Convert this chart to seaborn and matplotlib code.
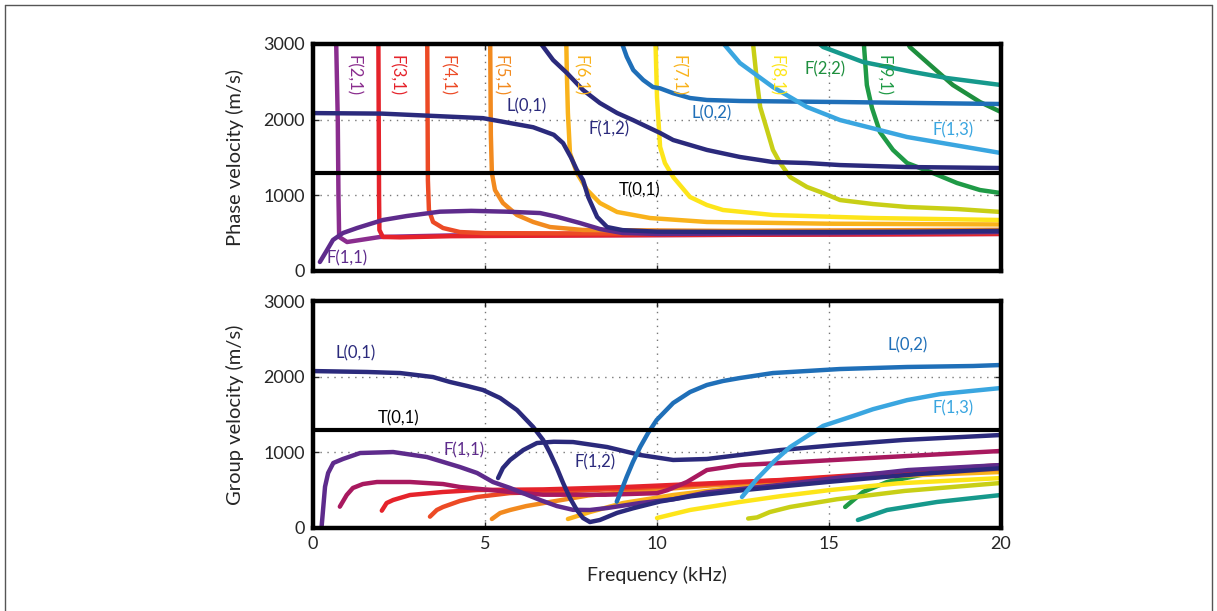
import numpy as np, pandas as pd
import seaborn as sns
import matplotlib
matplotlib.use("Agg")
import matplotlib.pyplot as plt
from matplotlib.lines import Line2D

sns.set_style("white")
plt.rcParams['font.family'] = ['Lato', 'DejaVu Sans']

# colours of the modes
c_navy = "#2b2a7c"
c_purple = "#5e2b8c"
c_violet = "#8a2d8e"
c_crimson = "#a8195f"
c_red = "#e5232b"
c_redorange = "#ec4a25"
c_orange = "#f28a1f"
c_amber = "#f9b21b"
c_yellow = "#fde51a"
c_lime = "#c8cf16"
c_green = "#1f9a46"
c_green2 = "#1e8f3e"
c_teal = "#16998c"
c_blue = "#1f6fb8"
c_lightblue = "#3aa6e0"

t01_velocity = 1290

# ---- phase velocity (top panel), frequency in kHz, velocity in m/s ----
ph_L01_f = [0, 2.0, 4.94, 6.4, 7.0, 7.27, 7.5, 7.67, 7.85, 8.0, 8.26, 8.55, 9.0, 10.0, 12.5, 15, 17.5, 20]
ph_L01_v = [2087, 2080, 2020, 1900, 1800, 1690, 1500, 1335, 1202, 978, 714, 581, 540, 520, 515, 515, 520, 530]
ph_F11_f = [0.2, 0.41, 0.58, 0.87, 1.28, 2.03, 2.73, 3.69, 4.6, 5.63, 6.6, 7.08, 7.76, 8.34, 9.0, 10, 15, 20]
ph_F11_v = [119, 278, 410, 502, 568, 674, 727, 784, 795, 784, 766, 718, 634, 555, 502, 490, 500, 515]
ph_F21_f = [0.67, 0.72, 0.74, 0.76, 0.99, 1.95, 4.0, 10, 20]
ph_F21_v = [3100, 2000, 1000, 450, 383, 450, 470, 475, 490]
ph_F31_f = [1.90, 1.92, 1.93, 2.03, 2.53, 4, 10, 20]
ph_F31_v = [3100, 1000, 542, 450, 445, 460, 475, 490]
ph_F41_f = [3.32, 3.34, 3.37, 3.49, 3.78, 4.27, 5.0, 10, 20]
ph_F41_v = [3100, 1200, 806, 648, 568, 515, 500, 495, 510]
ph_F51_f = [5.15, 5.17, 5.2, 5.29, 5.52, 5.93, 6.4, 6.89, 7.85, 12, 20]
ph_F51_v = [3100, 1800, 1295, 1070, 899, 740, 648, 581, 542, 530, 545]
ph_F61_f = [7.36, 7.38, 7.41, 7.47, 7.67, 7.97, 8.34, 8.84, 9.8, 11.45, 15, 20]
ph_F61_v = [3100, 2600, 2088, 1559, 1295, 1070, 899, 780, 700, 648, 625, 615]
ph_F71_f = [9.95, 9.97, 10.0, 10.09, 10.23, 10.47, 10.96, 11.45, 11.92, 13.37, 16.28, 20]
ph_F71_v = [3100, 2800, 2300, 1640, 1427, 1242, 978, 872, 806, 740, 700, 674]
ph_F81_f = [12.77, 12.79, 12.85, 12.91, 13.0, 13.2, 13.37, 13.58, 13.87, 14.36, 14.83, 15.32, 16.28, 17.27, 18.72, 20]
ph_F81_v = [3100, 3009, 2749, 2484, 2167, 1863, 1600, 1427, 1242, 1110, 1030, 938, 885, 846, 819, 780]
ph_F91_f = [16.0, 16.02, 16.1, 16.25, 16.48, 16.86, 17.27, 18.02, 18.72, 19.39, 20]
ph_F91_v = [3100, 2960, 2458, 2154, 1837, 1600, 1427, 1295, 1163, 1070, 1030]
ph_green_f = [17.25, 17.35, 17.94, 18.6, 19.39, 20]
ph_green_v = [3050, 2960, 2722, 2458, 2233, 2101]
ph_teal_f = [14.6, 14.83, 15.99, 17.44, 18.43, 20]
ph_teal_v = [3050, 2960, 2762, 2630, 2550, 2458]
ph_L02_f = [8.95, 9.12, 9.31, 9.6, 9.88, 10.09, 10.47, 10.96, 11.45, 12.41, 15.32, 20]
ph_L02_v = [3050, 2832, 2656, 2524, 2431, 2414, 2350, 2286, 2260, 2247, 2233, 2207]
ph_F12_f = [6.55, 6.98, 7.38, 7.85, 8.34, 8.84, 9.3, 10.09, 10.47, 11.45, 12.41, 13.37, 14.36, 15.32, 17.27, 20]
ph_F12_v = [3050, 2788, 2617, 2392, 2220, 2088, 1995, 1824, 1731, 1600, 1507, 1440, 1427, 1400, 1374, 1361]
ph_F13_f = [11.85, 12.41, 13.37, 14.36, 15.32, 17.27, 20]
ph_F13_v = [3050, 2749, 2431, 2167, 1995, 1771, 1559]

# ---- group velocity (bottom panel) ----
gr_L01_f = [0, 1.57, 2.53, 3.49, 3.98, 4.48, 4.94, 5.44, 5.93, 6.4, 6.69, 6.89, 7.09, 7.27, 7.47, 7.67, 7.85, 8.05, 8.34, 8.84, 9.3, 10.09, 11, 12.5, 15, 17.5, 20]
gr_L01_v = [2074, 2062, 2048, 1995, 1930, 1877, 1824, 1718, 1559, 1335, 1163, 991, 793, 595, 396, 238, 132, 79, 106, 200, 260, 350, 420, 500, 610, 710, 790]
gr_F11_f = [0.25, 0.35, 0.44, 0.59, 0.87, 1.37, 2.33, 3.31, 4.27, 4.77, 5.23, 5.73, 6.22, 6.6, 7.09, 7.56, 8.05, 8.55, 9.51, 10.47, 11.45, 13.58, 15, 17.3, 20]
gr_F11_v = [17, 546, 727, 859, 912, 991, 1004, 938, 806, 727, 608, 529, 440, 370, 290, 240, 238, 264, 330, 380, 470, 570, 650, 766, 832]
gr_F21_f = [0.78, 0.98, 1.16, 1.45, 1.86, 2.82, 3.78, 4.27, 5.73, 6.69, 8.5, 10.0, 10.3, 10.87, 11.45, 12.41, 13.58, 16.19, 20]
gr_F21_v = [282, 436, 529, 581, 608, 608, 581, 542, 476, 440, 440, 460, 500, 608, 766, 832, 859, 925, 1018]
gr_F31_f = [2.0, 2.14, 2.33, 2.82, 3.78, 4.77, 6.69, 9.0, 11.5, 13.58, 16.5, 20]
gr_F31_v = [229, 330, 370, 436, 476, 502, 510, 540, 590, 634, 720, 832]
gr_F41_f = [3.4, 3.6, 3.78, 4.27, 4.77, 5.73, 6.89, 9, 11.5, 14, 17, 20]
gr_F41_v = [150, 238, 278, 357, 410, 462, 476, 520, 580, 640, 720, 800]
gr_F51_f = [5.2, 5.44, 5.73, 6.2, 6.89, 8.0, 9.5, 11.5, 14, 17, 20]
gr_F51_v = [119, 198, 238, 290, 344, 430, 490, 560, 630, 700, 780]
gr_F61_f = [7.41, 8.05, 9.01, 10.47, 12.41, 13.58, 16.5, 20]
gr_F61_v = [119, 211, 330, 436, 542, 595, 680, 740]
gr_F71_f = [10.0, 10.96, 12.41, 13.58, 15.0, 17.0, 20]
gr_F71_v = [132, 238, 344, 420, 500, 590, 660]
gr_F81_f = [12.65, 12.91, 13.28, 13.87, 15.23, 17.2, 20]
gr_F81_v = [125, 140, 211, 278, 380, 490, 595]
gr_F91_f = [15.47, 15.99, 16.69, 17.65, 19.1, 20]
gr_F91_v = [278, 476, 608, 700, 766, 806]
gr_teal_f = [15.84, 16.69, 18.14, 20]
gr_teal_v = [106, 238, 344, 436]
gr_F12_f = [5.38, 5.52, 5.73, 6.11, 6.51, 7.0, 7.56, 8.55, 9.51, 10.47, 11.45, 12.41, 13.58, 15.23, 17.15, 20]
gr_F12_v = [660, 793, 899, 1030, 1123, 1140, 1136, 1070, 965, 899, 912, 965, 1030, 1097, 1163, 1229]
gr_L02_f = [8.83, 8.97, 9.12, 9.3, 9.51, 9.74, 9.99, 10.47, 10.96, 11.45, 11.92, 12.41, 13.37, 15.32, 17.27, 19.19, 20]
gr_L02_v = [348, 502, 678, 872, 1070, 1255, 1427, 1652, 1797, 1890, 1943, 1982, 2048, 2101, 2128, 2141, 2154]
gr_F13_f = [12.47, 12.91, 13.4, 13.87, 14.83, 15.7, 16.28, 17.27, 18.23, 20]
gr_F13_v = [410, 650, 880, 1070, 1350, 1480, 1570, 1690, 1770, 1850]

phase_curves = [
    (ph_F21_f, ph_F21_v, c_violet), (ph_F31_f, ph_F31_v, c_red),
    (ph_F41_f, ph_F41_v, c_redorange), (ph_F51_f, ph_F51_v, c_orange),
    (ph_F61_f, ph_F61_v, c_amber), (ph_F71_f, ph_F71_v, c_yellow),
    (ph_F81_f, ph_F81_v, c_lime), (ph_F91_f, ph_F91_v, c_green),
    (ph_green_f, ph_green_v, c_green2), (ph_teal_f, ph_teal_v, c_teal),
    (ph_L02_f, ph_L02_v, c_blue), (ph_F13_f, ph_F13_v, c_lightblue),
    (ph_F12_f, ph_F12_v, c_navy), (ph_F11_f, ph_F11_v, c_purple),
    (ph_L01_f, ph_L01_v, c_navy),
]
group_curves = [
    (gr_teal_f, gr_teal_v, c_teal), (gr_F91_f, gr_F91_v, c_green),
    (gr_F81_f, gr_F81_v, c_lime), (gr_F71_f, gr_F71_v, c_yellow),
    (gr_F61_f, gr_F61_v, c_amber), (gr_F51_f, gr_F51_v, c_orange),
    (gr_F41_f, gr_F41_v, c_redorange), (gr_F31_f, gr_F31_v, c_red),
    (gr_F21_f, gr_F21_v, c_crimson), (gr_F11_f, gr_F11_v, c_purple),
    (gr_L01_f, gr_L01_v, c_navy), (gr_F12_f, gr_F12_v, c_navy),
    (gr_F13_f, gr_F13_v, c_lightblue), (gr_L02_f, gr_L02_v, c_blue),
]

fig = plt.figure(figsize=(12.17, 6.11), dpi=100)
ax1 = fig.add_axes([313/1217, 1-271/611, 688/1217, 227/611])
ax2 = fig.add_axes([313/1217, 1-528/611, 688/1217, 227/611])

def style_axis(ax):
    ax.set_xlim(0, 20)
    ax.set_ylim(0, 3000)
    ax.set_xticks([0, 5, 10, 15, 20])
    ax.set_yticks([0, 1000, 2000, 3000])
    for x in [5, 10, 15]:
        ax.axvline(x, color="#777777", lw=1, ls=(0, (1, 4)), zorder=0)
    for y in [1000, 2000]:
        ax.axhline(y, color="#777777", lw=1, ls=(0, (1, 4)), zorder=0)
    for s in ax.spines.values():
        s.set_linewidth(3.2)
        s.set_color("black")
        s.set_zorder(10)
    ax.tick_params(direction="in", length=4, width=1, labelsize=13,
                   top=True, right=True, left=True, bottom=True, pad=6)
    ax.axhline(t01_velocity, color="black", lw=3, zorder=5)

for f, v, c in phase_curves:
    sns.lineplot(x=f, y=v, ax=ax1, color=c, lw=3.2, sort=False, estimator=None)
for f, v, c in group_curves:
    sns.lineplot(x=f, y=v, ax=ax2, color=c, lw=3.2, sort=False, estimator=None)

style_axis(ax1)
style_axis(ax2)
ax1.set_xticklabels([])
ax1.set_xlabel("")
ax1.set_ylabel("Phase velocity (m/s)", fontsize=14.5, labelpad=14)
ax2.set_ylabel("Group velocity (m/s)", fontsize=14.5, labelpad=14)
ax2.set_xlabel("Frequency (kHz)", fontsize=14, labelpad=10)

fs = 12
# vertical mode labels in the phase panel
for x, txt, c in [(1.16, "F(2,1)", c_violet), (2.41, "F(3,1)", c_red),
                  (3.9, "F(4,1)", c_redorange), (5.44, "F(5,1)", c_orange),
                  (7.76, "F(6,1)", c_amber), (10.6, "F(7,1)", c_amber),
                  (13.46, "F(8,1)", c_yellow), (16.57, "F(9,1)", c_green)]:
    ax1.text(x, 2580, txt, color=c, fontsize=fs, rotation=-90, ha="center", va="center")
for x, y, txt, c in [(14.9, 2660, "F(2,2)", c_green2), (6.22, 2170, "L(0,1)", c_navy),
                     (8.6, 1876, "F(1,2)", c_navy), (11.6, 2088, "L(0,2)", c_blue),
                     (18.6, 1863, "F(1,3)", c_lightblue), (9.5, 1070, "T(0,1)", "black"),
                     (1.0, 172, "F(1,1)", c_purple)]:
    ax1.text(x, y, txt, color=c, fontsize=fs, ha="center", va="center")
for x, y, txt, c in [(1.25, 2313, "L(0,1)", c_navy), (2.5, 1454, "T(0,1)", "black"),
                     (4.4, 1030, "F(1,1)", c_purple), (8.2, 872, "F(1,2)", c_navy),
                     (17.3, 2418, "L(0,2)", c_blue), (18.6, 1586, "F(1,3)", c_lightblue)]:
    ax2.text(x, y, txt, color=c, fontsize=fs, ha="center", va="center")

# thin frame around the figure
for xs, ys in [([5/1217, 5/1217], [0, 1-5/611]), ([5/1217, 1212/1217], [1-5/611, 1-5/611]),
               ([1212/1217, 1212/1217], [0, 1-5/611])]:
    fig.add_artist(Line2D(xs, ys, color="#555555", lw=1, transform=fig.transFigure))

fig.savefig("out.png", dpi=100)
